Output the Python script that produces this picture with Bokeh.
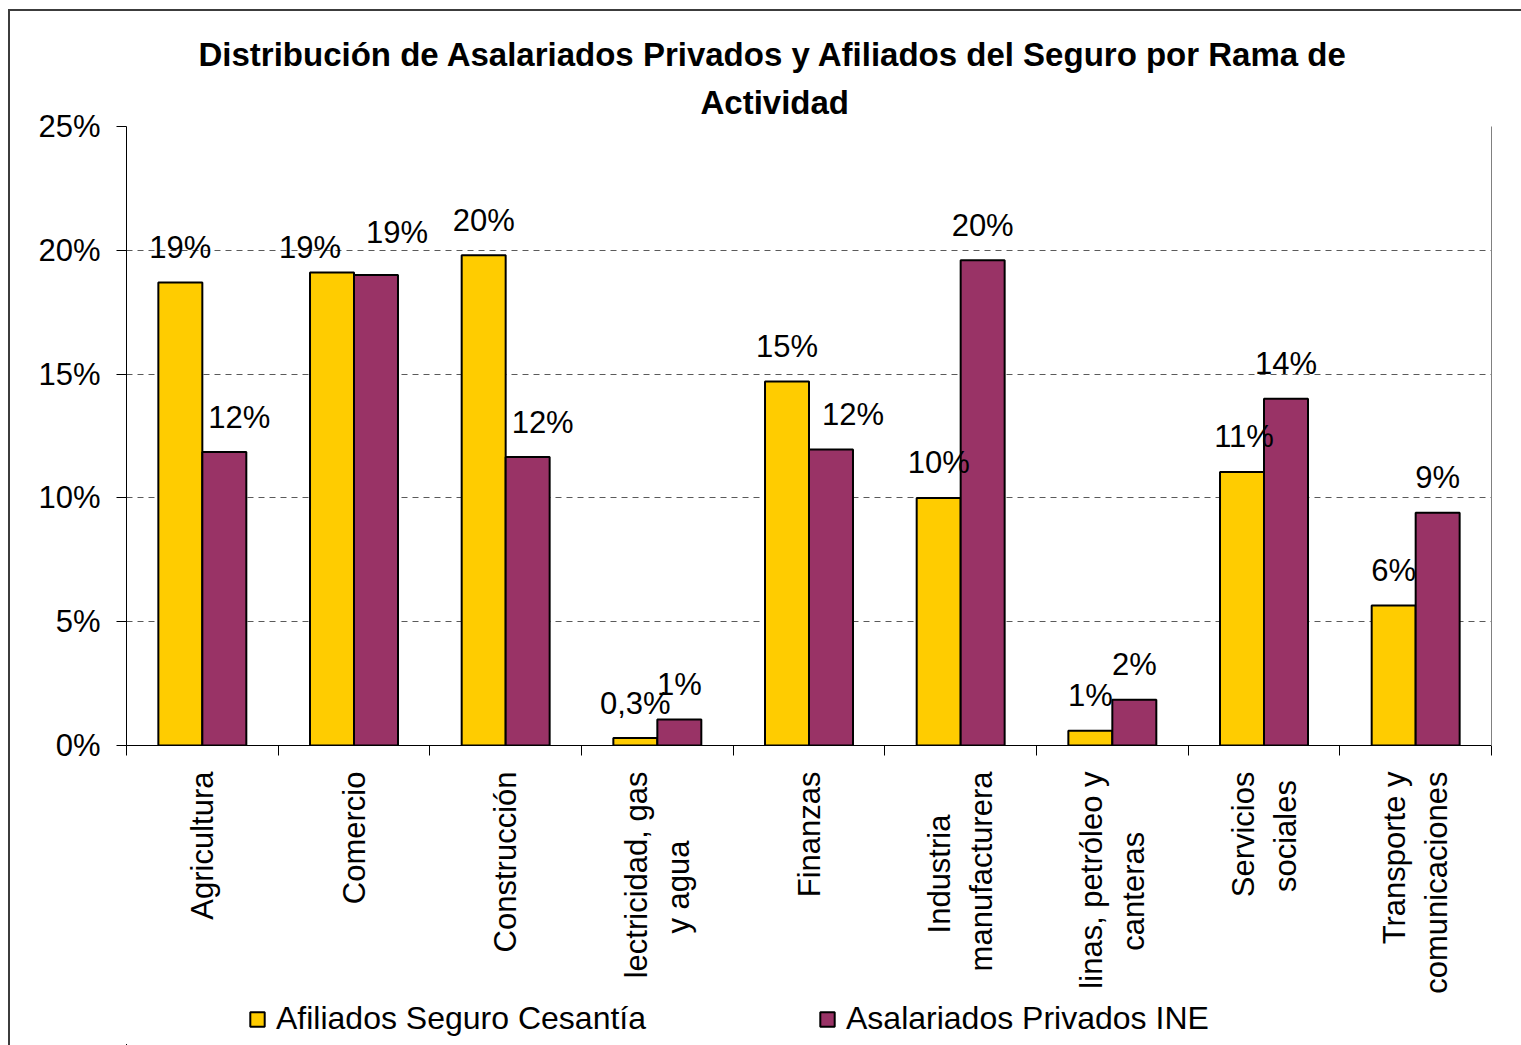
import math
from bokeh.plotting import figure
from bokeh.layouts import column
from bokeh.models import (ColumnDataSource, Range1d, LinearAxis, FixedTicker, PrintfTickFormatter,
                          Legend, LegendItem, Title)
from bokeh.core.properties import value
from bokeh.embed import file_html
from bokeh.resources import INLINE

# ---------------- data ----------------
NB = "\u00a0"
categories = ["Agricultura", "Comercio", "Construcción", "lectricidad, gas\ny agua" + NB * 8, "Finanzas",
              "Industria" + NB * 5 + "\nmanufacturera", "linas, petróleo y\ncanteras" + NB * 7,
              "Servicios\nsociales" + NB, "Transporte y\ncomunicaciones"]
afiliados = [18.7, 19.1, 19.8, 0.3, 14.7, 10.0, 0.6, 11.05, 5.65]
asalariados = [11.85, 19.0, 11.65, 1.05, 11.95, 19.6, 1.85, 14.0, 9.4]
afiliados_labels = ["19%", "19%", "20%", "0,3%", "15%", "10%", "1%", "11%", "6%"]
asalariados_labels = ["12%", "19%", "12%", "1%", "12%", "20%", "2%", "14%", "9%"]
y_ticks = [0, 5, 10, 15, 20, 25]
series_names = ["Afiliados Seguro Cesantía", "Asalariados Privados INE"]
title_lines = ["Distribución de Asalariados Privados y Afiliados del Seguro por Rama de", "Actividad"]

# label nudges (pixels), style only
afil_dx = [0, -22, 0, 0, 0, 0, 0, 2, 0]
afil_dy = [0, 10, 0, 0, 0, 0, 0, 0, 0]
asal_dx = [15, 21, 15, 0, 22, 0, 0, 0, 0]
asal_dy = [0, -8, 0, 0, 0, 0, 0, 0, 0]

YELLOW = "#FFCC00"
PURPLE = "#993366"
FONT = "Liberation Sans"
FS = "31px"

n = len(categories)
centers = [i + 0.5 for i in range(n)]
edges = list(range(n + 1))
OFF = 0.145
BW = 0.29
BASE_DY = -35
src = ColumnDataSource(dict(
    x1=[c - OFF for c in centers], x2=[c + OFF for c in centers],
    afil=afiliados, asal=asalariados,
    afil_lab=afiliados_labels, asal_lab=asalariados_labels,
    afil_dx=afil_dx, afil_dy=[BASE_DY + d for d in afil_dy],
    asal_dx=asal_dx, asal_dy=[BASE_DY + d for d in asal_dy],
))

W, H1, H2 = 1511, 985, 49
p = figure(width=W, height=H1, x_range=Range1d(0, n), y_range=Range1d(0, 25),
           output_backend="svg", toolbar_location=None,
           x_axis_location=None, min_border_left=116, min_border_top=115,
           min_border_right=30, min_border_bottom=H1 - 735)
p.title.visible = False
p.outline_line_color = None
p.background_fill_color = "white"
p.border_fill_color = "white"

# titles (first added sits closest to the frame)
p.add_layout(Title(text=title_lines[1], align="left", offset=574, standoff=12,
                   text_font=FONT, text_font_size="33px", text_font_style="bold",
                   text_color="black"), "above")
p.add_layout(Title(text=title_lines[0], align="left", offset=72, standoff=5,
                   text_font=FONT, text_font_size="33px", text_font_style="bold",
                   text_color="black"), "above")

# y axis
yax = p.yaxis[0]
yax.ticker = FixedTicker(ticks=y_ticks)
yax.formatter = PrintfTickFormatter(format="%d%%")
yax.major_tick_out = 10
yax.major_tick_in = 0
yax.minor_tick_line_color = None
yax.major_label_standoff = 16
yax.major_label_text_font = FONT
yax.major_label_text_font_size = FS
yax.major_label_text_color = "black"
yax.axis_line_color = "black"
yax.major_tick_line_color = "black"

p.xgrid.visible = False
p.ygrid.ticker = FixedTicker(ticks=y_ticks)
p.ygrid.grid_line_color = "#5a5a5a"
p.ygrid.grid_line_dash = "6 5"
p.ygrid.grid_line_width = 1

# boundary ticks axis (no labels)
edge_axis = LinearAxis(ticker=FixedTicker(ticks=edges),
                       major_label_overrides={e: "" for e in edges}, major_label_standoff=0,
                       major_tick_out=10, major_tick_in=0, minor_tick_line_color=None,
                       axis_line_color="black", major_tick_line_color="black")
p.add_layout(edge_axis, "below")

# category label axis
cat_axis = LinearAxis(ticker=FixedTicker(ticks=centers),
                      major_label_overrides={c: lab for c, lab in zip(centers, categories)},
                      major_tick_line_color=None, minor_tick_line_color=None, axis_line_color=None,
                      major_label_orientation=math.pi / 2, major_label_standoff=10,
                      major_label_text_font=FONT, major_label_text_font_size=FS,
                      major_label_text_color="black")
p.add_layout(cat_axis, "below")

# right border line
right_axis = LinearAxis(ticker=FixedTicker(ticks=[]), major_tick_line_color=None,
                        minor_tick_line_color=None, axis_line_color="#808080",
                        major_label_standoff=0)
p.add_layout(right_axis, "right")

p.vbar(x="x1", top="afil", width=BW, source=src,
       fill_color=YELLOW, line_color="black", line_width=2)
p.vbar(x="x2", top="asal", width=BW, source=src,
       fill_color=PURPLE, line_color="black", line_width=2)

p.text(x="x1", y="afil", text="afil_lab", source=src,
       x_offset="afil_dx", y_offset="afil_dy", text_align="center", text_baseline="middle",
       text_font=value(FONT), text_font_size=FS, text_color="black")
p.text(x="x2", y="asal", text="asal_lab", source=src,
       x_offset="asal_dx", y_offset="asal_dy", text_align="center", text_baseline="middle",
       text_font=value(FONT), text_font_size=FS, text_color="black")

# legend strip below the chart (its ranges are far from the data, so the proxy bars stay hidden)
q = figure(width=W, height=H2, x_range=Range1d(100, 101), y_range=Range1d(100, 101),
           output_backend="svg", toolbar_location=None,
           x_axis_location=None, y_axis_location=None, min_border=0)
q.title.visible = False
q.outline_line_color = None
q.grid.visible = False
q.background_fill_color = "white"
q.border_fill_color = "white"
l1 = q.vbar(x="x1", top="afil", width=BW, source=src,
            fill_color=YELLOW, line_color="black", line_width=2)
l2 = q.vbar(x="x2", top="asal", width=BW, source=src,
            fill_color=PURPLE, line_color="black", line_width=2)
legend = Legend(items=[LegendItem(label=series_names[0], renderers=[l1]),
                       LegendItem(label=series_names[1], renderers=[l2])],
                orientation="horizontal", location=(122, 8), padding=0, margin=0,
                border_line_color=None, background_fill_alpha=0,
                glyph_width=18, glyph_height=18, label_standoff=10, label_width=530,
                spacing=12, label_text_font=FONT, label_text_font_size="32px",
                label_text_color="black")
q.add_layout(legend, "center")

layout = column(p, q, spacing=0)
layout.styles = {"margin-left": "8px", "margin-top": "9px",
                 "border-left": "2px solid #3c3c3c", "border-top": "2px solid #3c3c3c"}

open("out.html", "w").write(file_html(layout, INLINE))
